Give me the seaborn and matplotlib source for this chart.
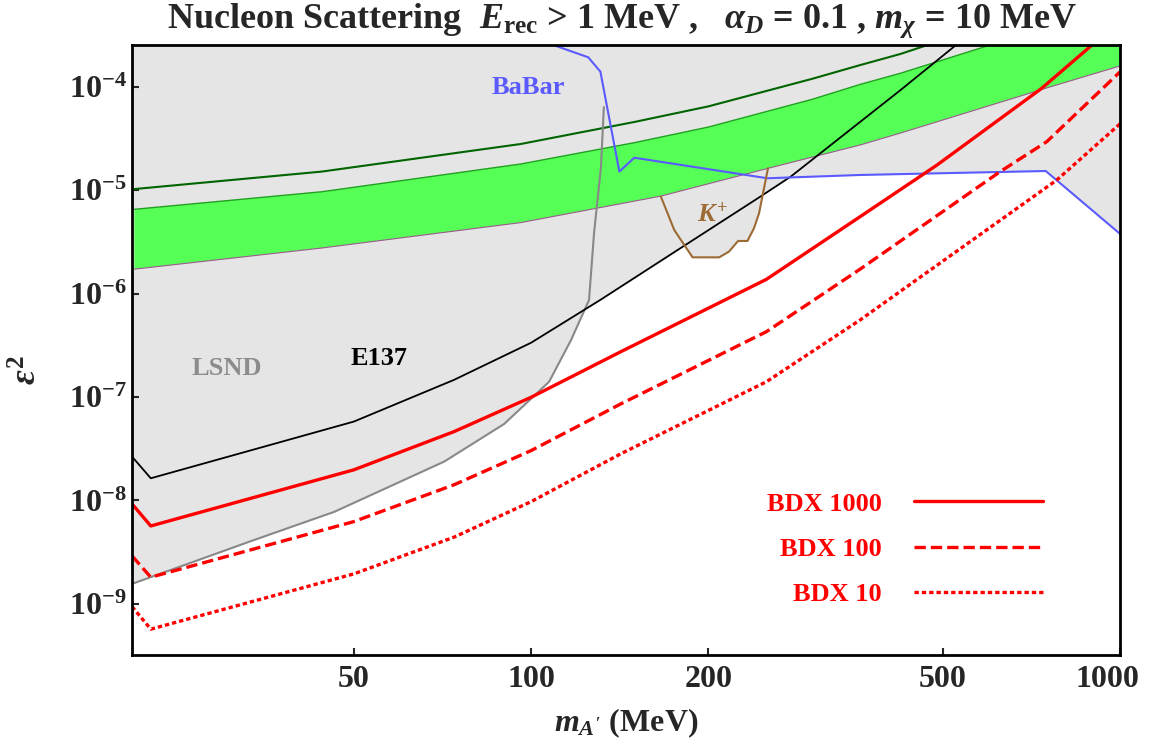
import numpy as np
import matplotlib
matplotlib.use("Agg")
import matplotlib.pyplot as plt
import matplotlib.transforms as mtransforms
import seaborn as sns

# axis range (m_A' in MeV, epsilon^2)
x_lim = (21.0, 1000.0)
y_lim = (3.2e-10, 2.55e-4)

# green band (lower / upper edge) and the dark green line above it
band_lo_m = [21.2, 44.1, 96, 166, 252, 362, 424, 751, 1000]
band_lo_eps = [1.73e-6, 2.77e-6, 4.88e-6, 8.8e-6, 1.63e-5, 2.75e-5, 3.59e-5, 9.8e-5, 1.6e-4]
band_hi_m = [21.2, 44.1, 96, 150, 200, 300, 362, 424, 602, 1000]
band_hi_eps = [6.56e-6, 9.7e-6, 1.8e-5, 2.9e-5, 4.1e-5, 7.6e-5, 1.06e-4, 1.36e-4, 2.55e-4, 6.4e-4]
ae_m = [21.2, 44.1, 96, 150, 200, 300, 362, 424, 476]
ae_eps = [1.03e-5, 1.52e-5, 2.81e-5, 4.6e-5, 6.5e-5, 1.2e-4, 1.63e-4, 2.09e-4, 2.6e-4]

# existing limits
e137_m = [21.0, 22.6, 50, 74, 100, 131, 245, 276, 424, 529]
e137_eps = [2.66e-8, 1.64e-8, 5.8e-8, 1.47e-7, 3.36e-7, 8.7e-7, 8.7e-6, 1.36e-5, 9.35e-5, 2.6e-4]
lsnd_m = [21.0, 33.9, 46.3, 71.2, 90, 107.3, 116.9, 125.4, 127.9, 131.4, 132.9]
lsnd_eps = [1.56e-9, 4.16e-9, 7.76e-9, 2.38e-8, 5.5e-8, 1.41e-7, 3.57e-7, 8.7e-7, 3.87e-6, 1.68e-5, 6.4e-5]
babar_m = [108, 125, 131.1, 141.2, 149.7, 251.9, 362.5, 748, 1000]
babar_eps = [2.6e-4, 1.94e-4, 1.41e-4, 1.52e-5, 2.07e-5, 1.31e-5, 1.41e-5, 1.54e-5, 3.8e-6]
kplus_m = [166.1, 175, 188, 208.6, 216.8, 224.6, 233, 239, 243.8, 248.6, 252.5]
kplus_eps = [8.7e-6, 4.14e-6, 2.25e-6, 2.25e-6, 2.56e-6, 3.24e-6, 3.24e-6, 4.3e-6, 6.0e-6, 1.05e-5, 1.64e-5]

# BDX projections
bdx1000_m = [21.0, 22.6, 50, 74, 100, 142, 251, 362, 489, 736, 900]
bdx1000_eps = [9.27e-9, 5.67e-9, 1.98e-8, 4.64e-8, 9.97e-8, 2.75e-7, 1.38e-6, 5.57e-6, 1.76e-5, 9.7e-5, 2.6e-4]
bdx100_m = [21.0, 22.6, 50, 74, 100, 142, 251, 362, 626, 751, 1000]
bdx100_eps = [2.91e-9, 1.81e-9, 6.25e-9, 1.42e-8, 3.04e-8, 8.6e-8, 4.3e-7, 1.73e-6, 1.52e-5, 2.96e-5, 1.4e-4]
bdx10_m = [21.0, 22.6, 50, 74, 100, 142, 251, 362, 781, 1000]
bdx10_eps = [9.4e-10, 5.69e-10, 1.95e-9, 4.42e-9, 9.75e-9, 2.83e-8, 1.41e-7, 5.58e-7, 1.26e-5, 4.4e-5]

x_ticks = [50, 100, 200, 500, 1000]
y_ticks = [1e-9, 1e-8, 1e-7, 1e-6, 1e-5, 1e-4]

sns.set_style("ticks")
plt.rcParams["font.family"] = ["Liberation Serif", "DejaVu Serif"]
plt.rcParams["font.weight"] = "bold"
plt.rcParams["axes.labelweight"] = "bold"
plt.rcParams["mathtext.fontset"] = "custom"
plt.rcParams["mathtext.rm"] = "Liberation Serif:bold"
plt.rcParams["mathtext.bf"] = "Liberation Serif:bold"
plt.rcParams["mathtext.it"] = "Liberation Serif:italic:bold"

fig = plt.figure(figsize=(11.49, 7.42), dpi=100)
ax = fig.add_axes([132 / 1149, 87 / 742, 988 / 1149, 610 / 742])
ax.set_xscale("log")
ax.set_yscale("log")

gray = "#e5e5e5"
# excluded region = everything above each limit
for m, e in [(lsnd_m, lsnd_eps), (e137_m, e137_eps), (babar_m, babar_eps)]:
    ax.fill_between(m, e, 1.0, color=gray, lw=0, zorder=0)
ax.fill(kplus_m, kplus_eps, color=gray, lw=0, zorder=0)

ax.fill(np.r_[band_lo_m, band_hi_m[::-1]], np.r_[band_lo_eps, band_hi_eps[::-1]],
        color="#55ff55", lw=0, zorder=1)

def line(m, e, **kw):
    sns.lineplot(x=m, y=e, ax=ax, sort=False, estimator=None, **kw)
    return ax.lines[-1]

line(band_lo_m, band_lo_eps, color="#9b5a8c", lw=0.8, zorder=2)
line(band_hi_m, band_hi_eps, color="#22a022", lw=1.0, zorder=2)
line(ae_m, ae_eps, color="#006400", lw=1.5, zorder=2)
line(lsnd_m, lsnd_eps, color="#888888", lw=1.5, zorder=3)
line(e137_m, e137_eps, color="black", lw=1.3, zorder=3)
line(babar_m, babar_eps, color="#5a5aff", lw=1.5, zorder=3)
line(kplus_m, kplus_eps, color="#9c6a35", lw=1.5, zorder=3)
h1000 = line(bdx1000_m, bdx1000_eps, color="red", lw=2.4, zorder=4)
h100 = line(bdx100_m, bdx100_eps, color="red", lw=2.4, zorder=4, linestyle=(0, (3.4, 1.5)))
h10 = line(bdx10_m, bdx10_eps, color="red", lw=2.4, zorder=4, linestyle=(0, (1.3, 0.9)))

ax.text(30.4, 1.91e-7, "LSND", color="#8c8c8c", fontsize=19, ha="center", va="center")
ax.text(55.1, 2.39e-7, "E137", color="black", fontsize=19, ha="center", va="center")
ax.text(99, 9.8e-5, "BaBar", color="#5a5aff", fontsize=19, ha="center", va="center")
ax.text(203.5, 5.78e-6, r"$K^{+}$", color="#9c6a35", fontsize=19, ha="center", va="center")

leg = ax.legend([h1000, h100, h10], ["BDX 1000", "BDX 100", "BDX 10"],
                markerfirst=False, frameon=False, fontsize=19, labelcolor="red",
                handlelength=4.9, handletextpad=1.2, labelspacing=0.83,
                loc="upper right", bbox_to_anchor=(0.922, 0.267),
                borderaxespad=0, borderpad=0)

ax.set_xlim(*x_lim)
ax.set_ylim(*y_lim)
ax.set_xticks(x_ticks)
ax.set_xticklabels([str(t) for t in x_ticks])
ax.set_yticks(y_ticks)
ax.set_yticklabels([r"$10^{%d}$" % int(np.log10(t)) for t in y_ticks])
ax.minorticks_off()
ax.tick_params(direction="in", length=5, width=1.5, labelsize=23, top=False, right=False)
ax.tick_params(axis="x", pad=7)
ax.tick_params(axis="y", pad=4)
# the last label sits at the right edge: nudge it inwards so it stays on the canvas
last = ax.get_xticklabels()[-1]
last.set_transform(last.get_transform() + mtransforms.ScaledTranslation(-13 / 100, 0, fig.dpi_scale_trans))
for s in ax.spines.values():
    s.set_linewidth(2)
    s.set_color("black")
    s.set_zorder(6)

ax.set_xlabel(r"$m_{A'}$ (MeV)", fontsize=23)
ax.xaxis.set_label_coords(0.5, -0.084)
ax.set_ylabel(r"$\varepsilon^{2}$", fontsize=26)
ax.yaxis.set_label_coords(-0.088, 0.467)

fig.text(622 / 1149, 0.962,
         r"Nucleon Scattering  $E_{\rm rec}$ > 1 MeV ,   $\alpha_D$ = 0.1 , $m_\chi$ = 10 MeV",
         ha="center", va="baseline", fontsize=26)

fig.savefig("out.png", dpi=100)
